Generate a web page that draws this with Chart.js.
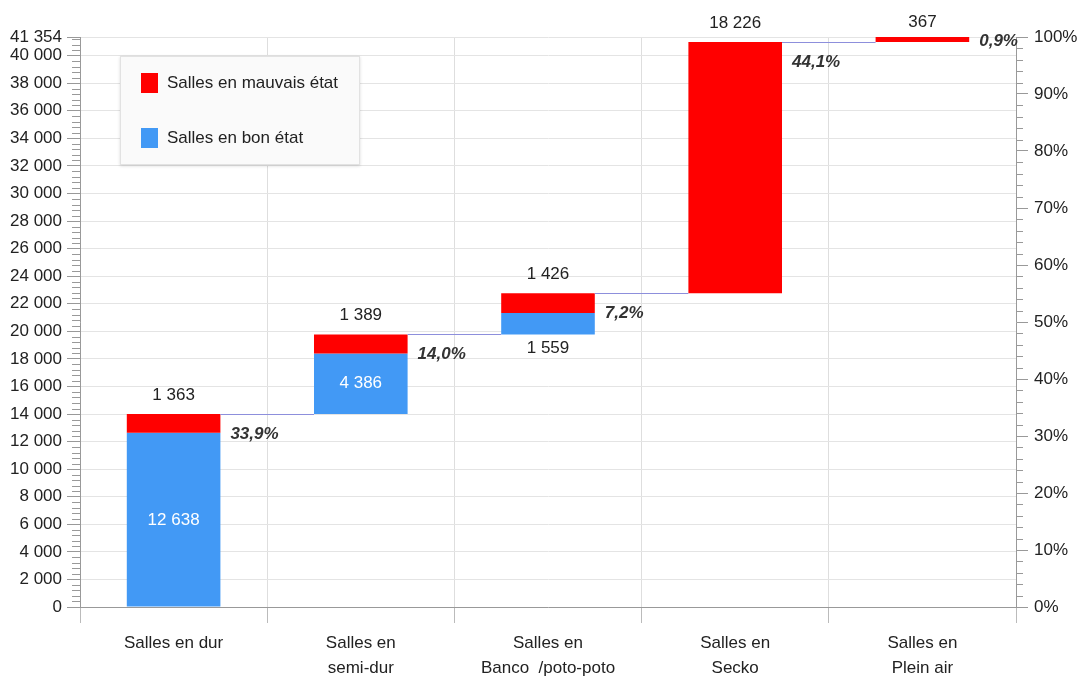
<!DOCTYPE html>
<html>
<head>
<meta charset="utf-8">
<script src="https://cdn.jsdelivr.net/npm/chart.js@4.4.1/dist/chart.umd.min.js"></script>
<style>
  body { margin: 0; background: #fff; font-family: "Liberation Sans", Arial, sans-serif; }
  #wrap { position: relative; width: 1079px; height: 680px; }
  #legend {
    position: absolute; left: 120px; top: 56px; width: 240px; height: 109px;
    background: #fafafa; border: 1px solid #e2e2e2; box-sizing: border-box;
    box-shadow: 0 1px 3px rgba(0,0,0,0.15);
  }
  .item { position: absolute; left: 20px; height: 20px; display: flex; align-items: center; }
  .sw { width: 17px; height: 20px; margin-right: 9px; }
  .item span { font-size: 17px; color: #222; }
</style>
</head>
<body>
<div id="wrap">
  <canvas id="myChart" width="1079" height="680"></canvas>
  <div id="legend">
    <div class="item" style="top:16px"><div class="sw" style="background:#ff0000"></div><span>Salles en mauvais état</span></div>
    <div class="item" style="top:71px"><div class="sw" style="background:#4299f5"></div><span>Salles en bon état</span></div>
  </div>
</div>
<script>
const categories = [
  "Salles en dur",
  ["Salles en", "semi-dur"],
  ["Salles en", "Banco  /poto-poto"],
  ["Salles en", "Secko"],
  ["Salles en", "Plein air"]
];
const goodValues = [12638, 4386, 1559, 0, 0];
const badValues = [1363, 1389, 1426, 18226, 367];
const sharePct = [33.9, 14.0, 7.2, 44.1, 0.9];
const leftTicks = [0, 2000, 4000, 6000, 8000, 10000, 12000, 14000, 16000, 18000, 20000,
  22000, 24000, 26000, 28000, 30000, 32000, 34000, 36000, 38000, 40000, 41354];
const rightTicks = [0, 10, 20, 30, 40, 50, 60, 70, 80, 90, 100];

const RED = "#ff0000";
const BLUE = "#4299f5";
const FONT = "'Liberation Sans', Arial, sans-serif";

// running totals for the waterfall
const bases = [];
let run = 0;
for (let i = 0; i < categories.length; i++) {
  bases.push(run);
  run += goodValues[i] + badValues[i];
}
const total = run;

const goodRanges = goodValues.map((v, i) => [bases[i], bases[i] + v]);
const badRanges = badValues.map((v, i) => [bases[i] + goodValues[i], bases[i] + goodValues[i] + v]);

const fmt = (n) => String(n).replace(/\B(?=(\d{3})+(?!\d))/g, " ");

const overlay = {
  id: "overlay",
  afterDatasetsDraw(chart) {
    const ctx = chart.ctx;
    const y = chart.scales.y;
    const y2 = chart.scales.y2;
    const badMeta = chart.getDatasetMeta(0).data;
    ctx.save();

    // connectors
    ctx.strokeStyle = "#8d8fdc";
    ctx.lineWidth = 1;
    for (let i = 0; i < categories.length - 1; i++) {
      const b = badMeta[i], n = badMeta[i + 1];
      const py = Math.round(y.getPixelForValue(badRanges[i][1])) + 0.5;
      ctx.beginPath();
      ctx.moveTo(b.x + b.width / 2, py);
      ctx.lineTo(n.x - n.width / 2, py);
      ctx.stroke();
    }

    // minor ticks
    ctx.strokeStyle = "#999";
    const left = chart.chartArea.left, right = chart.chartArea.right;
    for (let v = 0; v <= total; v += 400) {
      if (v % 2000 === 0) continue;
      const py = Math.round(y.getPixelForValue(v)) + 0.5;
      ctx.beginPath(); ctx.moveTo(left - 8, py); ctx.lineTo(left, py); ctx.stroke();
    }
    for (let v = 0; v <= 100; v += 2) {
      if (v % 10 === 0) continue;
      const py = Math.round(y2.getPixelForValue(v)) + 0.5;
      ctx.beginPath(); ctx.moveTo(right, py); ctx.lineTo(right + 7, py); ctx.stroke();
    }

    // labels
    ctx.font = "17px " + FONT;
    ctx.textAlign = "center";
    ctx.textBaseline = "middle";
    for (let i = 0; i < categories.length; i++) {
      const b = badMeta[i];
      const top = y.getPixelForValue(badRanges[i][1]);
      ctx.fillStyle = "#222";
      ctx.fillText(fmt(badValues[i]), b.x, Math.max(top - 19, 22));

      if (goodValues[i] > 0) {
        const gTop = y.getPixelForValue(goodRanges[i][1]);
        const gBot = y.getPixelForValue(goodRanges[i][0]);
        if (gBot - gTop > 30) {
          ctx.fillStyle = "#fff";
          ctx.fillText(fmt(goodValues[i]), b.x, (gTop + gBot) / 2);
        } else {
          ctx.fillStyle = "#222";
          ctx.fillText(fmt(goodValues[i]), b.x, gBot + 14);
        }
      }

      ctx.save();
      ctx.font = "italic bold 17px " + FONT;
      ctx.fillStyle = "#333";
      ctx.textAlign = "left";
      const bottomAll = y.getPixelForValue(bases[i]);
      const py = Math.min(top + 20, (top + bottomAll) / 2 + 2);
      ctx.fillText(sharePct[i].toFixed(1).replace(".", ",") + "%", b.x + b.width / 2 + 10, py);
      ctx.restore();
    }
    ctx.restore();
  }
};

new Chart("myChart", {
  type: "bar",
  data: {
    labels: categories,
    datasets: [
      { label: "Salles en mauvais état", data: badRanges, backgroundColor: RED, yAxisID: "y" },
      { label: "Salles en bon état", data: goodRanges, backgroundColor: BLUE, yAxisID: "y" }
    ]
  },
  options: {
    responsive: false,
    devicePixelRatio: 1,
    animation: false,
    layout: { padding: { top: 37, left: 0, right: 0, bottom: 0 } },
    datasets: { bar: { grouped: false, barPercentage: 0.5, categoryPercentage: 1, borderSkipped: false } },
    plugins: { legend: { display: false }, tooltip: { enabled: false } },
    scales: {
      x: {
        grid: { offset: true, color: "#dedede", tickLength: 16, tickColor: "#bbb" },
        border: { color: "#999" },
        ticks: { color: "#222", font: { family: FONT, size: 17, lineHeight: 1.47 }, padding: 8, maxRotation: 0 },
        afterFit(scale) { scale.height = 73; }
      },
      y: {
        position: "left",
        min: 0,
        max: total,
        afterBuildTicks(scale) { scale.ticks = leftTicks.map((v) => ({ value: v })); },
        grid: { color: "#e4e4e4", tickLength: 13, tickColor: "#999" },
        border: { color: "#999" },
        ticks: { color: "#222", font: { family: FONT, size: 17 }, padding: 5, callback: (v) => fmt(v), autoSkip: false },
        afterFit(scale) { scale.width = 80; }
      },
      y2: {
        position: "right",
        min: 0,
        max: 100,
        afterBuildTicks(scale) { scale.ticks = rightTicks.map((v) => ({ value: v })); },
        grid: { drawOnChartArea: false, tickLength: 12, tickColor: "#999" },
        border: { color: "#999" },
        ticks: { color: "#222", font: { family: FONT, size: 17 }, padding: 6, callback: (v) => v + "%" },
        afterFit(scale) { scale.width = 63; }
      }
    }
  },
  plugins: [overlay]
});
</script>
</body>
</html>
